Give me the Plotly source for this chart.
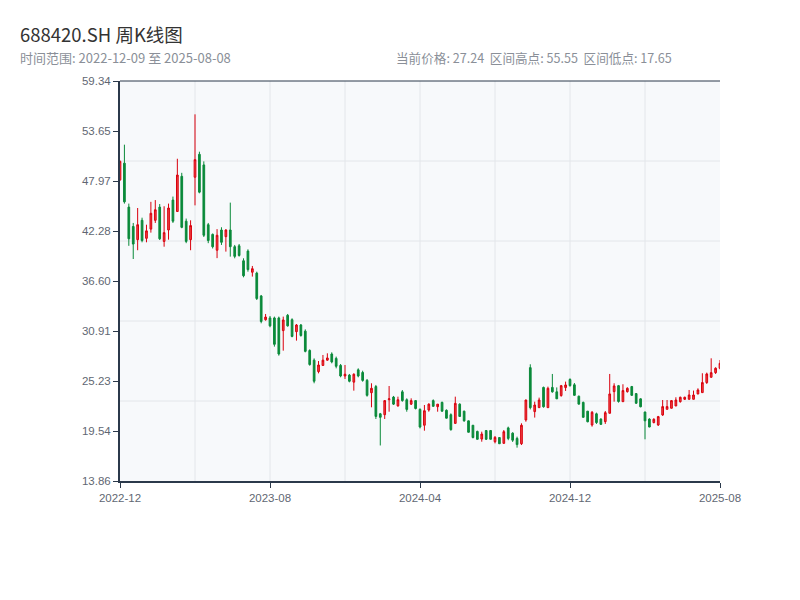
import pandas as pd
import plotly.graph_objects as go

# Weekly trading dates (holiday weeks without trading are absent)
all_fridays = pd.date_range("2022-12-09", "2025-08-08", freq="W-FRI")
holiday_weeks = ["2023-01-27", "2023-10-06", "2024-02-16"]
dates = [d.strftime("%Y-%m-%d") for d in all_fridays if d.strftime("%Y-%m-%d") not in holiday_weeks]

opens = [48.1, 50.0, 45.0, 42.8, 41.3, 43.5, 41.45, 42.5, 43.5, 45.0,
         41.1, 42.4, 45.8, 44.5, 48.5, 43.4, 41.3, 48.4, 51.0, 49.8,
         43.0, 41.9, 40.1, 42.4, 41.64, 42.4, 40.5, 40.6, 38.9, 40.0,
         37.6, 37.5, 34.9, 32.2, 32.4, 32.4, 32.4, 30.96, 32.7, 32.2,
         30.84, 31.6, 30.9, 28.7, 27.6, 26.3, 27.0, 27.6, 28.3, 27.8,
         27.0, 25.8, 25.9, 25.1, 26.5, 26.2, 25.3, 23.9, 24.6, 21.5,
         21.4, 23.1, 23.4, 22.4, 24.0, 23.1, 22.6, 23.0, 22.0, 20.2,
         21.93, 23.0, 22.31, 22.8, 21.9, 21.4, 20.41, 22.6, 21.8, 20.7,
         20.2, 19.5, 18.63, 19.6, 19.6, 18.33, 18.8, 18.14, 19.9, 19.3,
         18.7, 18.1, 20.8, 26.75, 21.75, 22.2, 24.5, 22.2, 24.5, 24.0,
         23.57, 24.48, 25.4, 24.8, 23.5, 22.8, 21.8, 20.23, 21.5, 20.9,
         20.61, 21.56, 24.02, 24.7, 22.88, 24.02, 24.6, 23.8, 23.2, 21.7,
         20.9, 20.5, 20.23, 21.37, 22.01, 22.13, 22.39, 22.88, 23.15, 23.15,
         23.15, 23.76, 23.91, 25.05, 25.65, 26.18, 26.68]
highs = [50.3, 52.1, 45.4, 43.2, 44.9, 43.8, 43.0, 45.6, 45.8, 45.35,
         45.1, 45.4, 46.2, 50.5, 48.9, 43.7, 43.5, 55.55, 51.3, 50.2,
         43.2, 42.0, 42.5, 42.71, 42.48, 45.51, 40.7, 40.81, 39.18, 40.2,
         38.31, 37.66, 35.01, 32.85, 32.62, 32.55, 32.55, 32.55, 32.85, 32.36,
         31.71, 31.71, 31.1, 28.83, 27.8, 27.5, 28.19, 28.38, 28.49, 28.0,
         27.16, 27.05, 26.03, 26.1, 26.67, 26.4, 25.46, 24.97, 24.78, 21.6,
         23.07, 24.66, 23.53, 23.45, 24.2, 23.26, 23.26, 23.07, 22.12, 22.5,
         22.69, 23.14, 22.61, 22.88, 22.0, 21.55, 23.45, 22.69, 21.85, 20.72,
         20.22, 19.58, 19.47, 19.66, 19.66, 18.97, 18.82, 19.66, 20.04, 19.4,
         18.9, 20.42, 23.1, 27.13, 22.88, 23.34, 24.59, 24.59, 26.03, 24.5,
         24.78, 25.16, 25.54, 25.0, 23.57, 22.88, 21.82, 21.82, 21.63, 20.99,
         21.82, 26.03, 24.97, 24.78, 24.86, 24.52, 24.67, 23.83, 23.26, 21.75,
         20.99, 20.99, 21.26, 23.07, 23.07, 23.07, 23.38, 23.45, 23.45, 24.21,
         24.14, 24.4, 26.11, 26.18, 27.81, 26.79, 27.62]
lows = [48.0, 45.4, 40.6, 39.1, 40.1, 41.0, 41.0, 42.1, 43.2, 41.26,
        40.5, 41.3, 43.2, 44.5, 42.6, 40.9, 40.1, 45.2, 46.57, 41.6,
        40.9, 40.3, 39.2, 40.7, 39.94, 39.37, 39.18, 39.37, 37.02, 37.66,
        37.1, 34.44, 31.79, 32.09, 31.34, 29.14, 28.11, 28.68, 31.41, 30.2,
        29.82, 30.27, 28.49, 26.97, 24.97, 26.1, 26.97, 27.54, 27.24, 26.67,
        25.65, 25.46, 25.08, 24.13, 25.65, 25.15, 23.45, 22.24, 20.91, 17.9,
        20.91, 21.74, 22.5, 22.31, 22.88, 21.74, 22.5, 22.0, 19.84, 19.58,
        21.74, 22.31, 21.74, 21.74, 20.98, 19.58, 20.41, 21.17, 20.6, 19.39,
        18.71, 18.59, 18.33, 18.52, 18.59, 18.14, 18.06, 18.14, 18.5, 18.3,
        17.65, 17.95, 20.6, 22.0, 21.07, 22.2, 22.2, 22.2, 23.9, 23.19,
        23.45, 24.1, 24.59, 23.57, 22.58, 21.07, 20.53, 20.04, 20.35, 20.23,
        20.35, 21.56, 22.88, 22.77, 22.88, 23.91, 23.53, 22.62, 22.24, 18.6,
        19.97, 20.42, 20.12, 21.26, 22.01, 22.13, 22.39, 22.77, 23.07, 23.15,
        23.15, 23.72, 23.91, 24.9, 25.65, 26.03, 26.56]
closes = [50.2, 45.6, 41.4, 40.8, 43.0, 41.2, 42.3, 44.3, 44.7, 41.4,
          42.1, 44.9, 43.4, 48.65, 42.7, 41.1, 42.9, 50.4, 46.7, 41.8,
          41.2, 40.5, 41.8, 41.0, 42.4, 40.5, 39.4, 39.5, 37.2, 37.9,
          38.0, 34.6, 32.0, 32.5, 31.5, 29.4, 28.3, 32.17, 31.5, 30.3,
          31.6, 30.4, 28.6, 27.1, 25.2, 27.05, 27.6, 27.85, 27.4, 26.9,
          25.8, 26.0, 25.2, 26.0, 25.8, 25.3, 23.6, 24.4, 21.2, 21.1,
          23.0, 23.2, 22.6, 23.1, 23.0, 22.0, 23.0, 22.1, 20.0, 21.85,
          22.6, 22.35, 22.6, 21.8, 21.0, 19.7, 22.69, 21.2, 20.7, 19.4,
          18.8, 18.6, 19.2, 18.6, 18.6, 18.82, 18.1, 19.47, 18.7, 18.5,
          18.0, 20.2, 23.07, 22.2, 22.5, 23.07, 22.3, 24.4, 24.0, 23.2,
          24.7, 24.78, 24.7, 23.6, 22.6, 21.1, 20.6, 21.67, 20.5, 20.3,
          21.63, 23.76, 24.67, 22.9, 24.14, 24.4, 23.6, 22.7, 22.3, 20.7,
          20.0, 20.88, 21.18, 22.32, 22.32, 23.0, 23.07, 23.38, 23.38, 23.64,
          23.64, 24.21, 25.05, 26.03, 26.18, 26.68, 27.24]

y_ticks = [13.86, 19.54, 25.23, 30.91, 36.60, 42.28, 47.97, 53.65, 59.34]
y_ticktext = ["13.86", "19.54", "25.23", "30.91", "36.60", "42.28", "47.97", "53.65", "59.34"]
x_tick_idx = [0, 34, 68, 102, 136]
x_ticktext = ["2022-12", "2023-08", "2024-04", "2024-12", "2025-08"]

AXIS = "#2b394b"
GRID = "#e3e6ea"
TICKFONT = dict(family="Liberation Sans, Arial, sans-serif", size=11.5, color="#5f6773")
CJK = "Noto Sans CJK SC, sans-serif"

fig = go.Figure()
fig.add_trace(go.Candlestick(
    x=dates, open=opens, high=highs, low=lows, close=closes,
    increasing=dict(line=dict(color="#d9000d", width=1), fillcolor="#f04646"),
    decreasing=dict(line=dict(color="#0a8a3a", width=1), fillcolor="#0a8a3a"),
    whiskerwidth=0, showlegend=False, hoverinfo="skip",
))

shapes = []
for k in range(1, 8):
    shapes.append(dict(type="line", xref="x domain", yref="y domain", x0=k / 8, x1=k / 8, y0=0, y1=1,
                       line=dict(color=GRID, width=1), layer="below"))
for k in range(1, 5):
    shapes.append(dict(type="line", xref="x domain", yref="y domain", x0=0, x1=1, y0=k / 5, y1=k / 5,
                       line=dict(color=GRID, width=1), layer="below"))
shapes.append(dict(type="line", xref="x domain", yref="y domain", x0=0, x1=1, y0=1, y1=1,
                   line=dict(color=AXIS, width=1)))

# the page body adds an 8px offset, so margins are shifted by 8px
fig.update_layout(
    width=800, height=600,
    margin=dict(l=112, r=88, t=73, b=127),
    paper_bgcolor="white", plot_bgcolor="#f7f9fb",
    boxgap=0.45,
    shapes=shapes,
    xaxis=dict(
        type="category", range=[0, len(dates) - 1], rangeslider=dict(visible=False),
        tickmode="array", tickvals=[dates[i] for i in x_tick_idx], ticktext=x_ticktext,
        showgrid=False, zeroline=False, showline=True, linecolor=AXIS, linewidth=2,
        ticks="outside", ticklen=5, tickcolor=AXIS, tickfont=TICKFONT,
    ),
    yaxis=dict(
        range=[13.86, 59.34], tickmode="array", tickvals=y_ticks, ticktext=y_ticktext,
        showgrid=False, zeroline=False, showline=True, linecolor=AXIS, linewidth=2,
        ticks="outside", ticklen=5, tickcolor=AXIS, tickfont=TICKFONT,
    ),
    yaxis2=dict(
        overlaying="y", side="right", range=[13.86, 59.34], tickmode="array", tickvals=y_ticks,
        showticklabels=False, showgrid=False, zeroline=False, showline=True,
        linecolor=AXIS, linewidth=1, ticks="outside", ticklen=5, tickcolor=AXIS,
    ),
    annotations=[
        dict(text="688420.SH 周K线图", xref="paper", yref="paper", x=-0.17, y=1.1175,
             xanchor="left", yanchor="middle", showarrow=False,
             font=dict(family=CJK, size=18.5, color="#333333")),
        dict(text="时间范围: 2022-12-09 至 2025-08-08", xref="paper", yref="paper", x=-0.17, y=1.0575,
             xanchor="left", yanchor="middle", showarrow=False,
             font=dict(family=CJK, size=13, color="#8a8f98")),
        dict(text="当前价格: 27.24 &nbsp;区间高点: 55.55 &nbsp;区间低点: 17.65", xref="paper", yref="paper",
             x=0.457, y=1.0575, xanchor="left", yanchor="middle", showarrow=False,
             font=dict(family=CJK, size=12.6, color="#8a8f98")),
    ],
)

fig.write_html("out.html")
